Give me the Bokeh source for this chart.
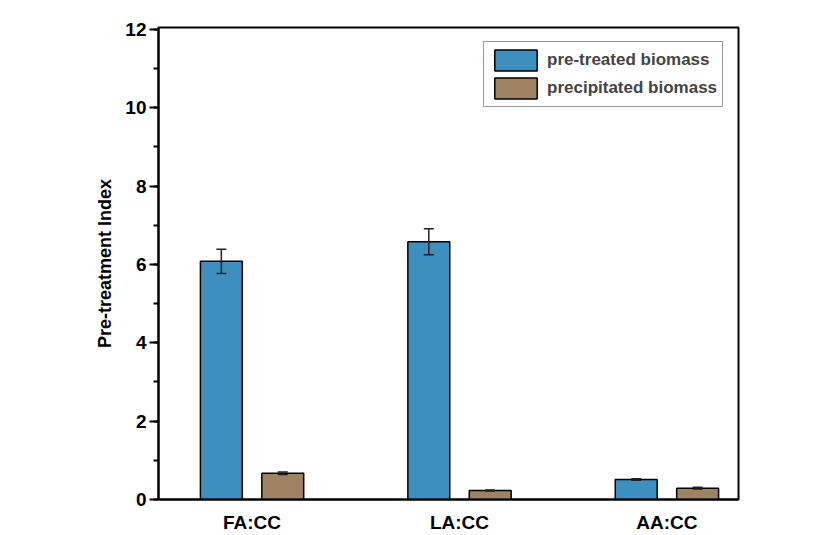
from bokeh.plotting import figure
from bokeh.models import (ColumnDataSource, Range1d, FixedTicker, SingleIntervalTicker,
                          Whisker, TeeHead, Legend, LegendItem)
from bokeh.embed import file_html
from bokeh.resources import INLINE

# Pre-treatment index per solvent system
categories = ["FA:CC", "LA:CC", "AA:CC"]
pretreated = [6.08, 6.58, 0.51]
pretreated_err = [0.31, 0.33, 0.02]
precipitated = [0.67, 0.23, 0.29]
precipitated_err = [0.03, 0.01, 0.02]

BLUE = "#3c8fbf"
BROWN = "#9e8262"
FONT = "Liberation Sans"

xpos = [i + 1 for i in range(len(categories))]
offset = 0.148
bar_w = 0.202

p = figure(width=836, height=535, output_backend="svg", toolbar_location=None,
           x_range=Range1d(0.549, 3.345), y_range=Range1d(0, 12.05),
           min_border_left=158, min_border_right=98, min_border_top=27, min_border_bottom=36)

src_a = ColumnDataSource(dict(x=[x - offset for x in xpos], top=pretreated,
                              upper=[v + e for v, e in zip(pretreated, pretreated_err)],
                              lower=[v - e for v, e in zip(pretreated, pretreated_err)]))
src_b = ColumnDataSource(dict(x=[x + offset for x in xpos], top=precipitated,
                              upper=[v + e for v, e in zip(precipitated, precipitated_err)],
                              lower=[v - e for v, e in zip(precipitated, precipitated_err)]))

ra = p.vbar(x="x", top="top", width=bar_w, source=src_a, fill_color=BLUE,
            line_color="black", line_width=1.5)
rb = p.vbar(x="x", top="top", width=bar_w, source=src_b, fill_color=BROWN,
            line_color="black", line_width=1.5)

# error bars drawn over the bars
for src in (src_a, src_b):
    w = Whisker(base="x", upper="upper", lower="lower", source=src, level="overlay",
                line_color="#222222", line_width=1.5,
                upper_head=TeeHead(size=10, line_color="#222222", line_width=1.5),
                lower_head=TeeHead(size=10, line_color="#222222", line_width=1.5))
    p.add_layout(w)

p.grid.visible = False
p.outline_line_color = "black"
p.outline_line_width = 2

# x axis: category names under each group
p.xaxis.ticker = FixedTicker(ticks=xpos)
p.xaxis.major_label_overrides = {x: c for x, c in zip(xpos, categories)}
p.xaxis.major_tick_line_color = None
p.xaxis.minor_tick_line_color = None
p.xaxis.axis_line_width = 2
p.xaxis.major_label_text_font = FONT
p.xaxis.major_label_text_font_style = "bold"
p.xaxis.major_label_text_font_size = "19px"
p.xaxis.major_label_text_color = "black"
p.xaxis.major_label_standoff = 6

# y axis
p.yaxis.ticker = SingleIntervalTicker(interval=2, num_minor_ticks=2)
p.yaxis.axis_line_width = 2
p.yaxis.major_tick_in = 0
p.yaxis.major_tick_out = 9
p.yaxis.minor_tick_in = 0
p.yaxis.minor_tick_out = 5
p.yaxis.major_tick_line_width = 2
p.yaxis.minor_tick_line_width = 2
p.yaxis.major_label_text_font = FONT
p.yaxis.major_label_text_font_style = "bold"
p.yaxis.major_label_text_font_size = "19px"
p.yaxis.major_label_text_color = "black"
p.yaxis.major_label_standoff = 3
p.yaxis.axis_label = "Pre-treatment Index"
p.yaxis.axis_label_text_font = FONT
p.yaxis.axis_label_text_font_style = "bold"
p.yaxis.axis_label_text_font_size = "18px"
p.yaxis.axis_label_text_color = "black"
p.yaxis.axis_label_standoff = 7

legend = Legend(items=[LegendItem(label="pre-treated biomass", renderers=[ra]),
                       LegendItem(label="precipitated biomass", renderers=[rb])],
                location=(325, 392), glyph_width=53, glyph_height=26,
                label_text_font=FONT, label_text_font_style="bold",
                label_text_font_size="17px", label_standoff=5,
                padding=5, spacing=2, margin=0, border_line_color="#333333",
                border_line_width=1.2, label_height=26)
p.add_layout(legend)

open("out.html", "w").write(file_html(p, INLINE))
